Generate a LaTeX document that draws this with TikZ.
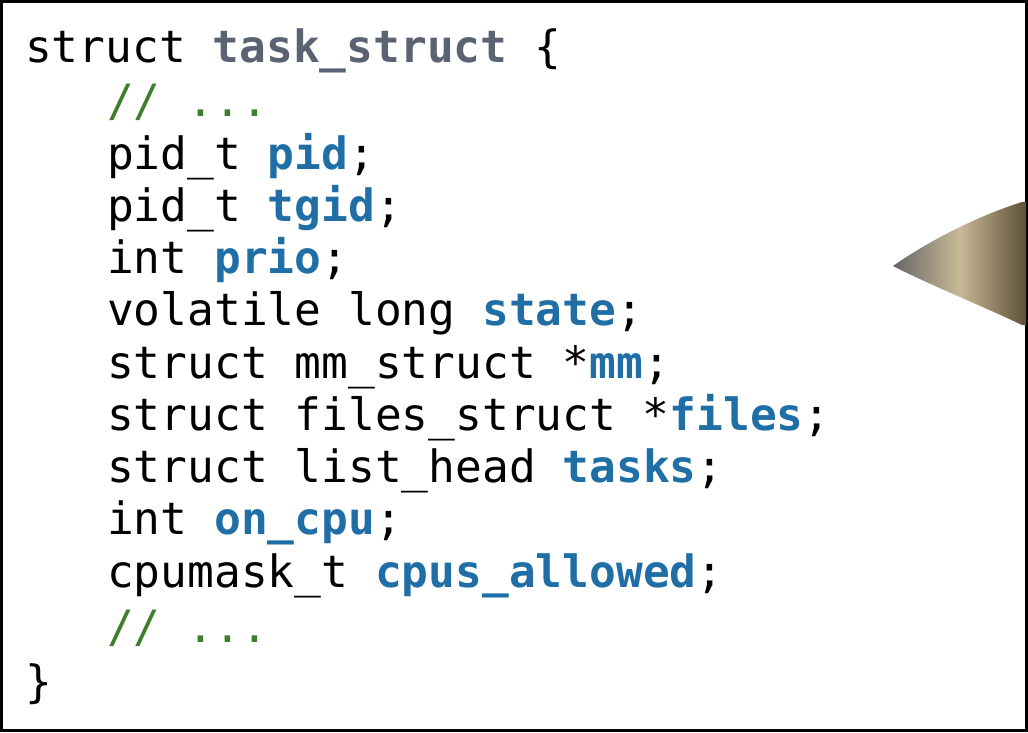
\documentclass[tikz,border=0pt]{standalone}
\usepackage{fontspec}
\setmonofont{DejaVu Sans Mono}
\definecolor{typename}{HTML}{5B6373}
\definecolor{field}{HTML}{1F6EA6}
\definecolor{comment}{HTML}{3D7D2E}
\definecolor{pengold}{HTML}{B09A6A}
\definecolor{pendark}{HTML}{5E5038}
\begin{document}
\begin{tikzpicture}[x=1pt,y=-1pt,
    code/.style={anchor=base west, inner sep=0pt, font=\fontsize{44.5}{50}\ttfamily}
]
\useasboundingbox (0,0) rectangle (1028,732);
\draw[fill=white, draw=black, line width=3pt] (1.5,1.5) rectangle (1026.5,730.5);

% pen tip
\shade[left color=black!60, right color=pendark, middle color=pengold!70!white]
  (893,266) .. controls (930,240) and (980,215) .. (1022,202)
  -- (1026,202) -- (1026,325) -- (1022,325)
  .. controls (980,305) and (930,285) .. (893,266) -- cycle;

\node[code] (l1) at (25,62) {struct \textcolor{typename}{\textbf{task\_struct}} \{};
\node[code] (l2) at (107,116) {\textcolor{comment}{// ...}};
\node[code] (l3) at (107,169) {pid\_t \textcolor{field}{\textbf{pid}};};
\node[code] (l4) at (107,221) {pid\_t \textcolor{field}{\textbf{tgid}};};
\node[code] (l5) at (107,273) {int \textcolor{field}{\textbf{prio}};};
\node[code] (l6) at (107,325) {volatile long \textcolor{field}{\textbf{state}};};
\node[code] (l7) at (107,378) {struct mm\_struct *\textcolor{field}{\textbf{mm}};};
\node[code] (l8) at (107,430) {struct files\_struct *\textcolor{field}{\textbf{files}};};
\node[code] (l9) at (107,482) {struct list\_head \textcolor{field}{\textbf{tasks}};};
\node[code] (l10) at (107,534) {int \textcolor{field}{\textbf{on\_cpu}};};
\node[code] (l11) at (107,587) {cpumask\_t \textcolor{field}{\textbf{cpus\_allowed}};};
\node[code] (l12) at (107,642) {\textcolor{comment}{// ...}};
\node[code] (l13) at (25,697) {\}};
\end{tikzpicture}
\end{document}
